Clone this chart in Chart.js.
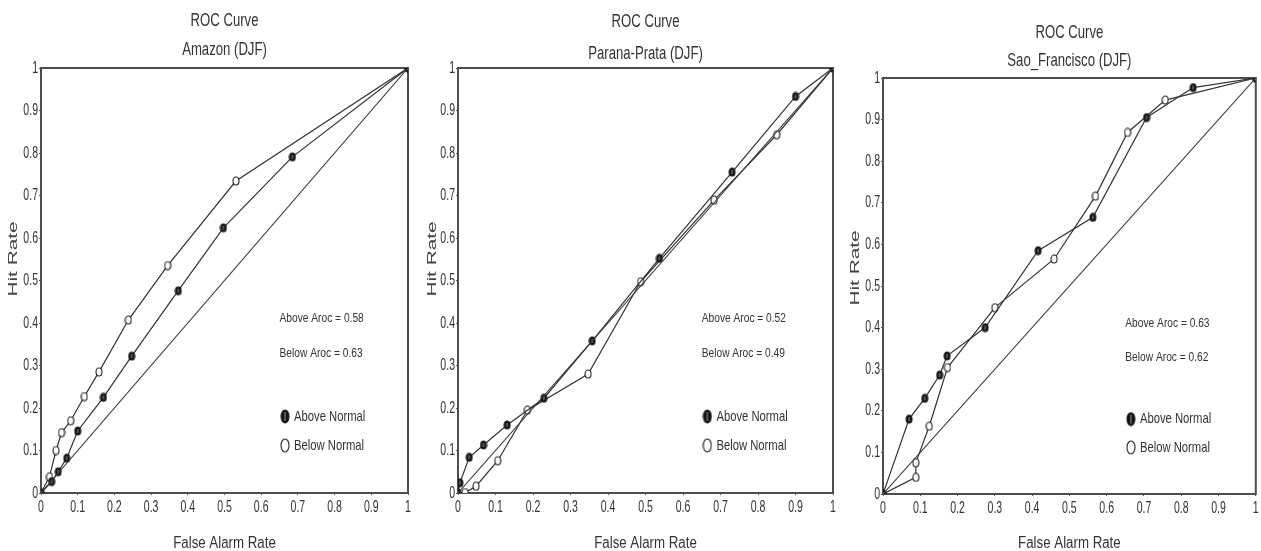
<!DOCTYPE html>
<html>
<head>
<meta charset="utf-8">
<title>ROC Curves DJF</title>
<script src="https://cdn.jsdelivr.net/npm/chart.js"></script>
<style>
  html, body { margin: 0; padding: 0; background: #fff; overflow: hidden; }
  .panel { position: absolute; top: 0; height: 551px; }
</style>
</head>
<body>
<div class="panel" style="left:0;width:420px"><canvas id="roc-amazon" width="420" height="551"></canvas></div>
<div class="panel" style="left:420px;width:420px"><canvas id="roc-parana" width="420" height="551"></canvas></div>
<div class="panel" style="left:840px;width:421px"><canvas id="roc-sao" width="421" height="551"></canvas></div>
<script>
// ROC curves for three basins, DJF season
const regions = ['Amazon', 'Parana-Prata', 'Sao_Francisco'];
const season = 'DJF';
const tickLabels = ['0', '0.1', '0.2', '0.3', '0.4', '0.5', '0.6', '0.7', '0.8', '0.9', '1'];
const arocAbove = ['0.58', '0.52', '0.63'];
const arocBelow = ['0.63', '0.49', '0.62'];
const diagonal = [0, 1];

// false alarm rate / hit rate
const amazonAboveFar = [0, 0.029, 0.047, 0.07, 0.10, 0.17, 0.247, 0.374, 0.497, 0.685, 1];
const amazonAboveHit = [0, 0.027, 0.05, 0.082, 0.146, 0.225, 0.322, 0.476, 0.624, 0.791, 1];
const amazonBelowFar = [0, 0.023, 0.041, 0.056, 0.081, 0.118, 0.158, 0.238, 0.345, 0.531, 1];
const amazonBelowHit = [0, 0.038, 0.10, 0.142, 0.17, 0.227, 0.285, 0.407, 0.535, 0.734, 1];

const paranaAboveFar = [0, 0.005, 0.03, 0.068, 0.131, 0.229, 0.358, 0.537, 0.731, 0.90, 1];
const paranaAboveHit = [0, 0.024, 0.084, 0.113, 0.16, 0.223, 0.358, 0.552, 0.755, 0.933, 1];
const paranaBelowFar = [0, 0.019, 0.048, 0.106, 0.185, 0.347, 0.487, 0.683, 0.85, 1];
const paranaBelowHit = [0, 0.001, 0.016, 0.076, 0.195, 0.28, 0.497, 0.689, 0.843, 1];

const saoAboveFar = [0, 0.07, 0.112, 0.152, 0.172, 0.274, 0.416, 0.563, 0.707, 0.832, 1];
const saoAboveHit = [0, 0.18, 0.23, 0.286, 0.332, 0.40, 0.585, 0.665, 0.905, 0.977, 1];
const saoBelowFar = [0, 0.088, 0.088, 0.124, 0.173, 0.30, 0.459, 0.57, 0.656, 0.757, 1];
const saoBelowHit = [0, 0.04, 0.075, 0.163, 0.304, 0.448, 0.565, 0.716, 0.869, 0.947, 1];

const SANS = "'Liberation Sans', Arial, sans-serif";
const INK = '#333';

const panels = [
  { id: 'roc-amazon', above: [amazonAboveFar, amazonAboveHit], below: [amazonBelowFar, amazonBelowHit],
    axisWidth: 41, axisHeight: 58, padTop: 68, padRight: 12, titleY: [21, 50], hitX: 13, hitY: 259 },
  { id: 'roc-parana', above: [paranaAboveFar, paranaAboveHit], below: [paranaBelowFar, paranaBelowHit],
    axisWidth: 38, axisHeight: 58, padTop: 68, padRight: 7, titleY: [22, 54], hitX: 12, hitY: 259 },
  { id: 'roc-sao', above: [saoAboveFar, saoAboveHit], below: [saoBelowFar, saoBelowHit],
    axisWidth: 43, axisHeight: 57, padTop: 78, padRight: 3, titleY: [33, 61], hitX: 15, hitY: 268 }
];

function makeMarker(filled, w, h) {
  const c = document.createElement('canvas');
  c.width = w + 2;
  c.height = h + 2;
  const g = c.getContext('2d');
  g.beginPath();
  g.ellipse(c.width / 2, c.height / 2, w / 2, h / 2, 0, 0, Math.PI * 2);
  g.fillStyle = filled ? '#111' : '#fff';
  g.fill();
  g.lineWidth = 1.1;
  g.strokeStyle = '#222';
  g.stroke();
  if (filled) {
    g.strokeStyle = '#9a9a9a';
    g.lineWidth = 1;
    g.beginPath();
    g.moveTo(c.width / 2, c.height / 2 - h / 2 + 2);
    g.lineTo(c.width / 2, c.height / 2 + h / 2 - 2);
    g.stroke();
  }
  return c;
}

const filledDot = makeMarker(true, 6, 8);
const openDot = makeMarker(false, 6, 8);
const filledKey = makeMarker(true, 8, 13);
const openKey = makeMarker(false, 8, 13);

const toPoints = (xs, ys) => xs.map((x, i) => ({ x, y: ys[i] }));

// the original uses a tall, narrow plotter font, so squeeze text horizontally
function narrowText(ctx, text, x, y, size, sx, align) {
  ctx.save();
  ctx.translate(x, y);
  ctx.scale(sx, 1);
  ctx.font = `${size}px ${SANS}`;
  ctx.textAlign = align || 'center';
  ctx.textBaseline = 'middle';
  ctx.fillText(text, 0, 0);
  ctx.restore();
}

const rocDecor = {
  id: 'rocDecor',
  beforeDatasetsDraw(chart) {
    const { ctx, chartArea: a } = chart;
    ctx.save();
    ctx.strokeStyle = '#4d4d4d';
    ctx.lineWidth = 2;
    ctx.strokeRect(a.left, a.top, a.width, a.height);
    ctx.restore();
  },
  afterDraw(chart, args, opts) {
    const { ctx, chartArea: a, scales: { x, y } } = chart;
    const cx = (a.left + a.right) / 2;
    ctx.save();
    ctx.fillStyle = INK;

    // tick labels from the library's own ticks
    x.ticks.forEach((t, i) => narrowText(ctx, tickLabels[i], x.getPixelForTick(i), a.bottom + 14, 17, 0.62));
    y.ticks.forEach((t, i) => narrowText(ctx, tickLabels[i], a.left - 3, y.getPixelForTick(i), 17, 0.62, 'right'));

    narrowText(ctx, 'ROC Curve', cx, opts.titleY[0], 18, 0.73);
    narrowText(ctx, `${opts.region} (${season})`, cx, opts.titleY[1], 18, 0.73);
    narrowText(ctx, 'False Alarm Rate', cx, 544, 16, 0.83);

    // y axis title, wide lettering
    ctx.save();
    ctx.fillStyle = '#444';
    ctx.translate(opts.hitX, opts.hitY);
    ctx.rotate(-Math.PI / 2);
    narrowText(ctx, 'Hit Rate', 0, 0, 13, 1.6);
    ctx.restore();

    // aroc scores
    const tx = x.getPixelForValue(0.65);
    narrowText(ctx, `Above Aroc = ${opts.above}`, tx, y.getPixelForValue(0.41), 12, 0.85, 'left');
    narrowText(ctx, `Below Aroc = ${opts.below}`, tx, y.getPixelForValue(0.328), 12, 0.85, 'left');

    // key
    const kx = x.getPixelForValue(0.665);
    const k1 = y.getPixelForValue(0.18);
    const k2 = y.getPixelForValue(0.112);
    ctx.drawImage(filledKey, kx - filledKey.width / 2, k1 - filledKey.height / 2);
    ctx.drawImage(openKey, kx - openKey.width / 2, k2 - openKey.height / 2);
    narrowText(ctx, 'Above Normal', kx + 9, k1, 15, 0.75, 'left');
    narrowText(ctx, 'Below Normal', kx + 9, k2, 15, 0.75, 'left');
    ctx.restore();
  }
};

panels.forEach((p, i) => {
  const ctx = document.getElementById(p.id).getContext('2d');
  new Chart(ctx, {
    type: 'scatter',
    data: {
      datasets: [
        {
          data: toPoints(diagonal, diagonal),
          borderColor: '#3a3a3a',
          borderWidth: 1.1,
          pointRadius: 0,
          showLine: true
        },
        {
          label: 'Above Normal',
          data: toPoints(p.above[0], p.above[1]),
          borderColor: INK,
          borderWidth: 1.2,
          pointStyle: filledDot,
          pointRadius: 4,
          showLine: true
        },
        {
          label: 'Below Normal',
          data: toPoints(p.below[0], p.below[1]),
          borderColor: INK,
          borderWidth: 1.2,
          pointStyle: openDot,
          pointRadius: 4,
          showLine: true
        }
      ]
    },
    options: {
      responsive: false,
      animation: false,
      layout: { padding: { top: p.padTop, right: p.padRight, left: 0, bottom: 0 } },
      scales: {
        x: {
          type: 'linear',
          min: 0,
          max: 1,
          afterFit: s => { s.height = p.axisHeight; },
          ticks: { stepSize: 0.1, autoSkip: false, maxRotation: 0, display: false },
          grid: { drawOnChartArea: false, drawTicks: true, tickLength: 2, color: '#555' },
          border: { display: false }
        },
        y: {
          type: 'linear',
          min: 0,
          max: 1,
          afterFit: s => { s.width = p.axisWidth; },
          ticks: { stepSize: 0.1, autoSkip: false, display: false },
          grid: { drawOnChartArea: false, drawTicks: true, tickLength: 2, color: '#555' },
          border: { display: false }
        }
      },
      plugins: {
        legend: { display: false },
        tooltip: { enabled: false },
        rocDecor: {
          region: regions[i],
          above: arocAbove[i],
          below: arocBelow[i],
          titleY: p.titleY,
          hitX: p.hitX,
          hitY: p.hitY
        }
      }
    },
    plugins: [rocDecor]
  });
});
</script>
</body>
</html>
